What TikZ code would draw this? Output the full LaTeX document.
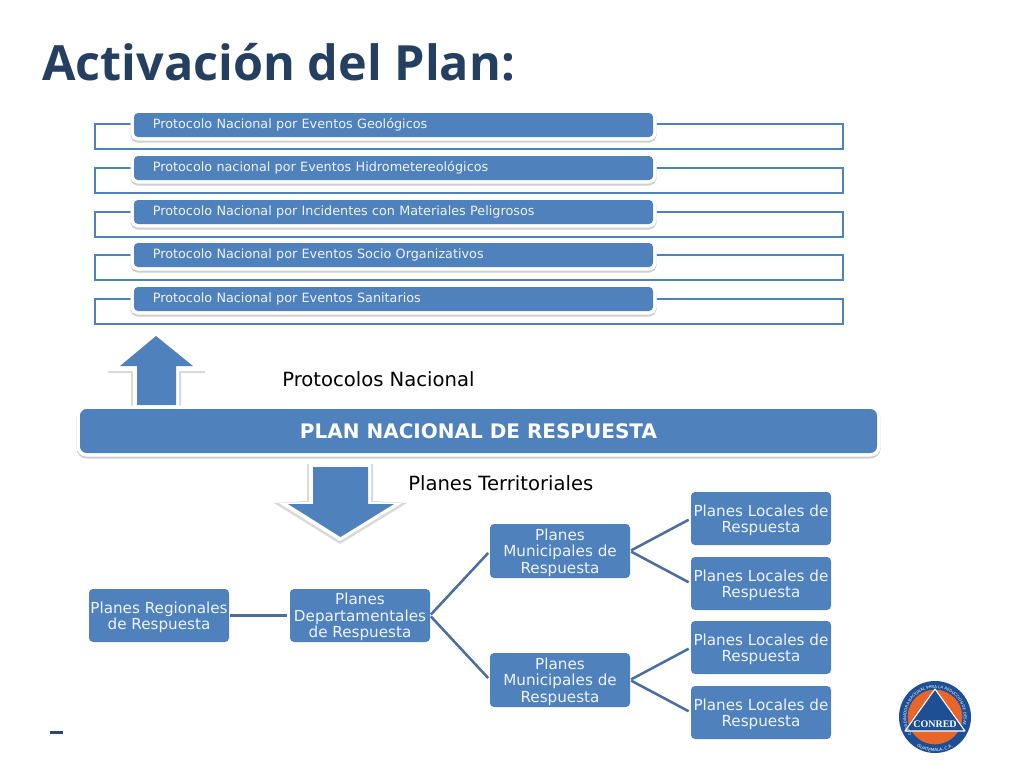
\documentclass[tikz,border=0pt]{standalone}
\usepackage{fontspec}
\usetikzlibrary{calc,decorations.text}
\setmainfont{DejaVu Sans}
\newfontfamily\titlefont{Open Sans}[BoldFont={Open Sans Bold}]
\newfontfamily\logofont{Liberation Serif}
\definecolor{mainblue}{HTML}{4F81BD}
\definecolor{linkblue}{HTML}{4A6F9F}
\definecolor{titleblue}{HTML}{243F5F}
\definecolor{softwhite}{HTML}{EEF3F9}
\definecolor{haloedge}{HTML}{CFCFCF}
\definecolor{arrowedge}{HTML}{DADADA}
\definecolor{logoblue}{HTML}{1D4F95}
\definecolor{logoorange}{HTML}{E8662A}
\newcommand\pxbox[7]{%
  \pgfmathsetmacro\pw{(#5-#3)*0.75}%
  \pgfmathsetmacro\ph{(#6-#4)*0.75}%
  \node[#2,minimum width=\pw pt,minimum height=\ph pt] (#1) at ({(#3+#5)/2},{(#4+#6)/2}) {#7};}
\newcommand\tl{\rule{0pt}{11pt}}
\tikzset{
  x=0.75pt,y=-0.75pt,
  halo/.style={
    preaction={draw=haloedge,line width=5.25pt,transform canvas={yshift=-1.5pt}},
    preaction={draw=white,line width=5.25pt}},
  framebox/.style={draw=mainblue,line width=2.1pt,fill=none,inner sep=0pt,outer sep=0pt},
  protobox/.style={halo,fill=mainblue,rounded corners=3pt,inner sep=0pt,outer sep=0pt,
    text=softwhite,text width=361pt,align=left,font=\fontsize{9.6}{11}\selectfont},
  planbar/.style={halo,fill=mainblue,rounded corners=5pt,inner sep=0pt,outer sep=0pt,
    text=white,font=\bfseries\fontsize{15}{18}\selectfont},
  treebox/.style={fill=mainblue,rounded corners=3pt,inner sep=0pt,outer sep=0pt,
    text=softwhite,align=center,font=\fontsize{11.4}{12.2}\selectfont},
  link/.style={draw=linkblue,line width=1.9pt,shorten <=1pt,shorten >=2pt},
  caption/.style={text=black,inner sep=0pt,font=\fontsize{14.7}{17}\selectfont},
}
\begin{document}
\begin{tikzpicture}
\useasboundingbox (0,0) rectangle (1024,768);
\fill[white] (0,0) rectangle (1024,768);
\node[anchor=base west,inner sep=0pt,text=titleblue,font=\titlefont\bfseries\fontsize{36.4}{42}\selectfont] (title) at (42,80) {Activación del Plan:};

% frames behind the protocol bars
\pxbox{f1}{framebox}{95}{124}{843}{149}{}
\pxbox{f2}{framebox}{95}{168}{843}{193}{}
\pxbox{f3}{framebox}{95}{212}{843}{237}{}
\pxbox{f4}{framebox}{95}{255}{843}{280}{}
\pxbox{f5}{framebox}{95}{299}{843}{324}{}

% protocol bars
\pxbox{p1}{protobox}{134}{113}{653}{137}{Protocolo Nacional por Eventos Geológicos}
\pxbox{p2}{protobox}{134}{156}{653}{180}{Protocolo nacional por Eventos Hidrometereológicos}
\pxbox{p3}{protobox}{134}{200}{653}{224}{Protocolo Nacional por Incidentes con Materiales Peligrosos}
\pxbox{p4}{protobox}{134}{243}{653}{267}{Protocolo Nacional por Eventos Socio Organizativos}
\pxbox{p5}{protobox}{134}{287}{653}{311}{Protocolo Nacional por Eventos Sanitarios}

% up arrow
\fill[arrowedge] (108,371) -- (205,371) -- (205,373) -- (181,373) -- (181,406) -- (131,406) -- (131,373) -- (108,373) -- cycle;
\fill[white] (133,369) -- (179,369) -- (179,406) -- (133,406) -- cycle;
\fill[white] (156,331) -- (203,370) -- (110,370) -- cycle;
\fill[mainblue] (156,336) -- (193,366) -- (176,366) -- (176,405) -- (137,405) -- (137,366) -- (120,366) -- cycle;

% down arrow
\fill[arrowedge] (307,464) -- (373,464) -- (373,501) -- (407,503) -- (340,544) -- (274,503) -- (307,501) -- cycle;
\fill[white] (309,464) -- (371,464) -- (371,502) -- (402,503) -- (340,541) -- (279,503) -- (309,502) -- cycle;
\fill[mainblue] (313,467) -- (368,467) -- (368,504) -- (394,504) -- (340.5,537) -- (288,504) -- (313,504) -- cycle;

% main bar
\pxbox{plan}{planbar}{80}{409}{877}{453}{PLAN NACIONAL DE RESPUESTA}

\node[caption,anchor=west] (capa) at (282,379.5) {Protocolos Nacional};
\node[caption,anchor=west] (capb) at (408,483) {Planes Territoriales};

% tree
\pxbox{reg}{treebox}{89}{589}{229}{642}{\tl Planes Regionales\\de Respuesta}
\pxbox{dep}{treebox}{290}{589}{430}{642}{\tl Planes\\Departamentales\\de Respuesta}
\pxbox{mu1}{treebox}{490}{524}{630}{578}{\tl Planes\\Municipales de\\Respuesta}
\pxbox{mu2}{treebox}{490}{653}{630}{707}{\tl Planes\\Municipales de\\Respuesta}
\pxbox{lo1}{treebox}{691}{492}{831}{545}{\tl Planes Locales de\\Respuesta}
\pxbox{lo2}{treebox}{691}{557}{831}{610}{\tl Planes Locales de\\Respuesta}
\pxbox{lo3}{treebox}{691}{621}{831}{674}{\tl Planes Locales de\\Respuesta}
\pxbox{lo4}{treebox}{691}{686}{831}{739}{\tl Planes Locales de\\Respuesta}
\draw[link] (reg.east) -- (dep.west);
\draw[link] (dep.east) -- (mu1.west);
\draw[link] (dep.east) -- (mu2.west);
\draw[link] (mu1.east) -- (lo1.west);
\draw[link] (mu1.east) -- (lo2.west);
\draw[link] (mu2.east) -- (lo3.west);
\draw[link] (mu2.east) -- (lo4.west);

% footer dash
\fill[titleblue!85!mainblue] (50,731) rectangle (63,734);

% logo
\coordinate (logo) at (935,717);
\fill[logoblue] (logo) circle[radius=27pt];
\fill[logoorange] (logo) circle[radius=20.5pt];
\draw[white,line width=0.8pt,line join=round,fill=logoblue] (935,689) -- (965,731) -- (905,731) -- cycle;
\node[inner sep=0pt,text=white,font=\logofont\bfseries\fontsize{7.5}{8}\selectfont] (conred) at (935,724) {CONRED};
\path[decorate,decoration={text along path,text align=center,
  text={|\fontsize{2.9}{3}\selectfont\color{white}|COORDINADORA NACIONAL PARA LA REDUCCION DE DESASTRES}}]
  ($(logo)+(195:21.6pt)$) arc[start angle=195,end angle=-15,radius=21.6pt];
\path[decorate,decoration={text along path,text align=center,
  text={|\fontsize{3.2}{3}\selectfont\color{white}|GUATEMALA, C.A.}}]
  ($(logo)+(225:26pt)$) arc[start angle=225,end angle=315,radius=26pt];
\end{tikzpicture}
\end{document}
